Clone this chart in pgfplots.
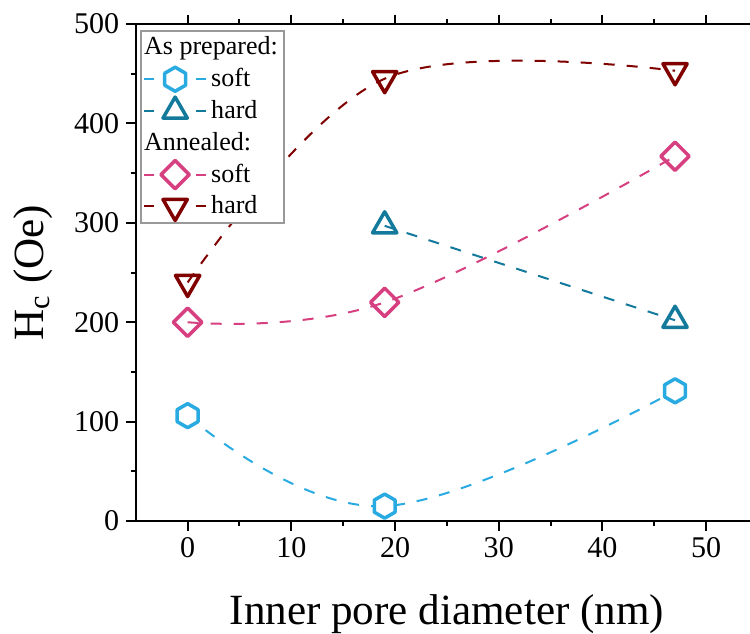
\documentclass[border=0pt]{standalone}
\usepackage{pgfplots}
\pgfplotsset{compat=1.18}
\usepackage{fontspec}
\setmainfont{Liberation Serif}
\definecolor{cSoftA}{RGB}{41,171,226}
\definecolor{cHardA}{RGB}{20,122,155}
\definecolor{cSoftB}{RGB}{214,64,128}
\definecolor{cHardB}{RGB}{128,0,0}
\pgfdeclareplotmark{hexagon}{%
  \pgfpathmoveto{\pgfqpoint{0pt}{\pgfplotmarksize}}%
  \pgfpathlineto{\pgfqpoint{0.866\pgfplotmarksize}{0.5\pgfplotmarksize}}%
  \pgfpathlineto{\pgfqpoint{0.866\pgfplotmarksize}{-0.5\pgfplotmarksize}}%
  \pgfpathlineto{\pgfqpoint{0pt}{-\pgfplotmarksize}}%
  \pgfpathlineto{\pgfqpoint{-0.866\pgfplotmarksize}{-0.5\pgfplotmarksize}}%
  \pgfpathlineto{\pgfqpoint{-0.866\pgfplotmarksize}{0.5\pgfplotmarksize}}%
  \pgfpathclose
  \pgfusepathqfillstroke}
\begin{document}
\begin{tikzpicture}
\begin{axis}[
  scale only axis, width=310.5pt, height=248pt,
  xmin=-5, xmax=55, ymin=0, ymax=500,
  xtick={0,10,...,50}, ytick={0,100,...,500},
  minor x tick num=1, minor y tick num=1,
  tick align=outside, major tick length=4.75pt, minor tick length=2.5pt,
  axis line style={line width=1pt},
  every tick/.style={black, line width=1pt},
  tick label style={font=\fontsize{15}{17}\selectfont},
  /pgf/number format/assume math mode=true,
  label style={font=\fontsize{21.5}{25}\selectfont},
  xlabel={Inner pore diameter (nm)},
  ylabel={H\textsubscript{c} (Oe)},
  xlabel style={at={(axis description cs:0.5,0)}, anchor=base, yshift=-51.5pt},
  ylabel style={at={(axis description cs:-0.165,0.5)}, anchor=center},
  legend style={at={(axis description cs:0,1)}, anchor=north west, xshift=2.25pt, yshift=-3pt,
    draw=gray!80, line width=0.8pt, font=\fontsize{13}{15}\selectfont, inner sep=1pt, row sep=1.3pt,
    /tikz/every even column/.append style={column sep=3pt}},
  legend cell align=left,
  legend image code/.code={
    \draw[#1, solid, mark=none] (0pt,0pt) -- (5pt,0pt);
    \draw[#1, solid, mark=none] (26pt,0pt) -- (31pt,0pt);
    \draw[#1, only marks] plot coordinates {(15.5pt,0pt)};
  },
  every axis plot/.append style={line width=1pt, dash pattern=on 5.5pt off 6pt},
]
\addlegendimage{empty legend}
\addlegendentry{\hspace{-33.5pt}As prepared:}
\addplot[cSoftA, smooth, tension=0.65, mark=hexagon, mark size=6pt,
  mark options={solid, fill=white, line width=1.75pt, line join=round}]
  coordinates {(0,106) (19,15) (47,131)};
\addlegendentry{soft}
\addplot[cHardA, mark=triangle, mark size=7pt,
  mark options={solid, fill=white, line width=1.75pt, line join=round}]
  coordinates {(19,297) (47,202)};
\addlegendentry{hard}
\addlegendimage{empty legend}
\addlegendentry{\hspace{-33.5pt}Annealed:}
\addplot[cSoftB, smooth, tension=0.65, mark=square, mark size=5pt,
  mark options={solid, fill=white, line width=1.75pt, line join=round, rotate=45}]
  coordinates {(0,200) (19,220) (47,367)};
\addlegendentry{soft}
\addplot[cHardB, smooth, tension=0.6, mark=triangle, mark size=7pt,
  mark options={solid, fill=white, line width=1.75pt, line join=round, rotate=180}]
  coordinates {(0,240) (19,445) (47,453)};
\addlegendentry{hard}
\end{axis}
\pgfresetboundingbox
\path[use as bounding box] ([xshift=-67.75pt,yshift=-56pt]current axis.south west) rectangle ([xshift=-4pt,yshift=12pt]current axis.north east);
\end{tikzpicture}
\end{document}
